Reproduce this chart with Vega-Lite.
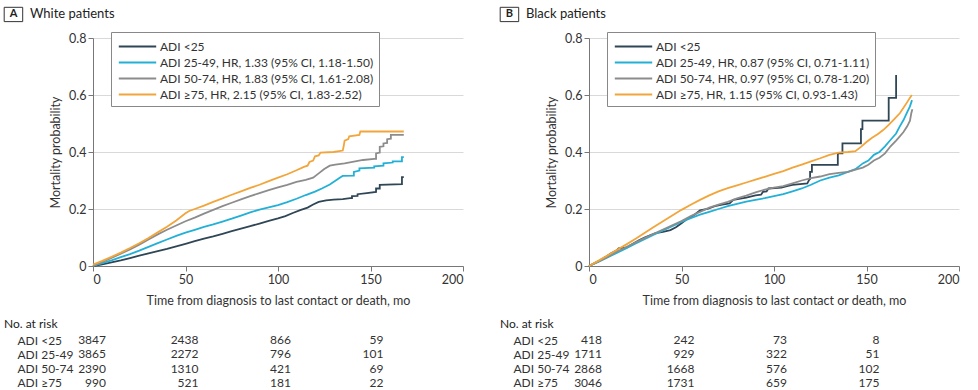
{
  "$schema": "https://vega.github.io/schema/vega-lite/v6.json",
  "padding": {"left": 3, "top": 6, "right": 5, "bottom": 0},
  "background": "white",
  "config": {
    "font": "Lato",
    "view": {"stroke": null},
    "axis": {"labelFont": "Lato", "titleFont": "Lato", "labelColor": "#333", "titleColor": "#333", "labelFontSize": 12.5, "titleFontSize": 12.5, "titleFontWeight": "normal", "domainColor": "#777", "tickColor": "#777", "tickSize": 5, "labelPadding": 2},
    "legend": {"labelFont": "Lato", "labelColor": "#333"},
    "title": {"font": "Lato", "fontWeight": "normal", "color": "#222"}
  },
  "datasets": {
    "white": [
      {"ADI": "ADI <25", "t": 0, "p": 0}, {"ADI": "ADI <25", "t": 5, "p": 0.006}, {"ADI": "ADI <25", "t": 10, "p": 0.013}, {"ADI": "ADI <25", "t": 15, "p": 0.02}, {"ADI": "ADI <25", "t": 20, "p": 0.028}, {"ADI": "ADI <25", "t": 25, "p": 0.036}, {"ADI": "ADI <25", "t": 30, "p": 0.044}, {"ADI": "ADI <25", "t": 35, "p": 0.052}, {"ADI": "ADI <25", "t": 40, "p": 0.06}, {"ADI": "ADI <25", "t": 45, "p": 0.069}, {"ADI": "ADI <25", "t": 50, "p": 0.078}, {"ADI": "ADI <25", "t": 55, "p": 0.087}, {"ADI": "ADI <25", "t": 60, "p": 0.096}, {"ADI": "ADI <25", "t": 65, "p": 0.104}, {"ADI": "ADI <25", "t": 70, "p": 0.113}, {"ADI": "ADI <25", "t": 75, "p": 0.122}, {"ADI": "ADI <25", "t": 80, "p": 0.131}, {"ADI": "ADI <25", "t": 85, "p": 0.14}, {"ADI": "ADI <25", "t": 90, "p": 0.149}, {"ADI": "ADI <25", "t": 95, "p": 0.158}, {"ADI": "ADI <25", "t": 100, "p": 0.167}, {"ADI": "ADI <25", "t": 104, "p": 0.175}, {"ADI": "ADI <25", "t": 108, "p": 0.186}, {"ADI": "ADI <25", "t": 112, "p": 0.196}, {"ADI": "ADI <25", "t": 116, "p": 0.205}, {"ADI": "ADI <25", "t": 119, "p": 0.216}, {"ADI": "ADI <25", "t": 122, "p": 0.225}, {"ADI": "ADI <25", "t": 126, "p": 0.23}, {"ADI": "ADI <25", "t": 130, "p": 0.233}, {"ADI": "ADI <25", "t": 135, "p": 0.235}, {"ADI": "ADI <25", "t": 139, "p": 0.238}, {"ADI": "ADI <25", "t": 140, "p": 0.238}, {"ADI": "ADI <25", "t": 140, "p": 0.245}, {"ADI": "ADI <25", "t": 143, "p": 0.246}, {"ADI": "ADI <25", "t": 143, "p": 0.252}, {"ADI": "ADI <25", "t": 148, "p": 0.256}, {"ADI": "ADI <25", "t": 153, "p": 0.26}, {"ADI": "ADI <25", "t": 153, "p": 0.272}, {"ADI": "ADI <25", "t": 155, "p": 0.272}, {"ADI": "ADI <25", "t": 155, "p": 0.285}, {"ADI": "ADI <25", "t": 167, "p": 0.287}, {"ADI": "ADI <25", "t": 167, "p": 0.312}, {"ADI": "ADI <25", "t": 168, "p": 0.312},
      {"ADI": "ADI 25-49", "t": 0, "p": 0}, {"ADI": "ADI 25-49", "t": 5, "p": 0.01}, {"ADI": "ADI 25-49", "t": 10, "p": 0.02}, {"ADI": "ADI 25-49", "t": 15, "p": 0.031}, {"ADI": "ADI 25-49", "t": 20, "p": 0.042}, {"ADI": "ADI 25-49", "t": 25, "p": 0.054}, {"ADI": "ADI 25-49", "t": 30, "p": 0.067}, {"ADI": "ADI 25-49", "t": 35, "p": 0.08}, {"ADI": "ADI 25-49", "t": 40, "p": 0.093}, {"ADI": "ADI 25-49", "t": 45, "p": 0.106}, {"ADI": "ADI 25-49", "t": 50, "p": 0.117}, {"ADI": "ADI 25-49", "t": 55, "p": 0.127}, {"ADI": "ADI 25-49", "t": 60, "p": 0.137}, {"ADI": "ADI 25-49", "t": 65, "p": 0.146}, {"ADI": "ADI 25-49", "t": 70, "p": 0.156}, {"ADI": "ADI 25-49", "t": 75, "p": 0.166}, {"ADI": "ADI 25-49", "t": 80, "p": 0.177}, {"ADI": "ADI 25-49", "t": 85, "p": 0.188}, {"ADI": "ADI 25-49", "t": 90, "p": 0.198}, {"ADI": "ADI 25-49", "t": 95, "p": 0.206}, {"ADI": "ADI 25-49", "t": 100, "p": 0.214}, {"ADI": "ADI 25-49", "t": 105, "p": 0.224}, {"ADI": "ADI 25-49", "t": 110, "p": 0.236}, {"ADI": "ADI 25-49", "t": 115, "p": 0.249}, {"ADI": "ADI 25-49", "t": 120, "p": 0.261}, {"ADI": "ADI 25-49", "t": 124, "p": 0.273}, {"ADI": "ADI 25-49", "t": 128, "p": 0.286}, {"ADI": "ADI 25-49", "t": 131, "p": 0.299}, {"ADI": "ADI 25-49", "t": 134, "p": 0.312}, {"ADI": "ADI 25-49", "t": 135, "p": 0.316}, {"ADI": "ADI 25-49", "t": 141, "p": 0.317}, {"ADI": "ADI 25-49", "t": 141, "p": 0.33}, {"ADI": "ADI 25-49", "t": 144, "p": 0.335}, {"ADI": "ADI 25-49", "t": 144, "p": 0.343}, {"ADI": "ADI 25-49", "t": 152, "p": 0.345}, {"ADI": "ADI 25-49", "t": 152, "p": 0.35}, {"ADI": "ADI 25-49", "t": 157, "p": 0.352}, {"ADI": "ADI 25-49", "t": 157, "p": 0.36}, {"ADI": "ADI 25-49", "t": 162, "p": 0.363}, {"ADI": "ADI 25-49", "t": 162, "p": 0.367}, {"ADI": "ADI 25-49", "t": 167, "p": 0.367}, {"ADI": "ADI 25-49", "t": 167, "p": 0.382}, {"ADI": "ADI 25-49", "t": 168, "p": 0.382},
      {"ADI": "ADI 50-74", "t": 0, "p": 0}, {"ADI": "ADI 50-74", "t": 5, "p": 0.014}, {"ADI": "ADI 50-74", "t": 10, "p": 0.028}, {"ADI": "ADI 50-74", "t": 15, "p": 0.043}, {"ADI": "ADI 50-74", "t": 20, "p": 0.058}, {"ADI": "ADI 50-74", "t": 25, "p": 0.075}, {"ADI": "ADI 50-74", "t": 30, "p": 0.093}, {"ADI": "ADI 50-74", "t": 35, "p": 0.111}, {"ADI": "ADI 50-74", "t": 40, "p": 0.127}, {"ADI": "ADI 50-74", "t": 45, "p": 0.142}, {"ADI": "ADI 50-74", "t": 50, "p": 0.157}, {"ADI": "ADI 50-74", "t": 55, "p": 0.17}, {"ADI": "ADI 50-74", "t": 60, "p": 0.184}, {"ADI": "ADI 50-74", "t": 65, "p": 0.197}, {"ADI": "ADI 50-74", "t": 70, "p": 0.21}, {"ADI": "ADI 50-74", "t": 75, "p": 0.222}, {"ADI": "ADI 50-74", "t": 80, "p": 0.234}, {"ADI": "ADI 50-74", "t": 85, "p": 0.245}, {"ADI": "ADI 50-74", "t": 90, "p": 0.256}, {"ADI": "ADI 50-74", "t": 95, "p": 0.266}, {"ADI": "ADI 50-74", "t": 100, "p": 0.276}, {"ADI": "ADI 50-74", "t": 105, "p": 0.285}, {"ADI": "ADI 50-74", "t": 110, "p": 0.295}, {"ADI": "ADI 50-74", "t": 115, "p": 0.302}, {"ADI": "ADI 50-74", "t": 119, "p": 0.31}, {"ADI": "ADI 50-74", "t": 122, "p": 0.325}, {"ADI": "ADI 50-74", "t": 125, "p": 0.34}, {"ADI": "ADI 50-74", "t": 128, "p": 0.352}, {"ADI": "ADI 50-74", "t": 131, "p": 0.356}, {"ADI": "ADI 50-74", "t": 136, "p": 0.36}, {"ADI": "ADI 50-74", "t": 141, "p": 0.366}, {"ADI": "ADI 50-74", "t": 146, "p": 0.372}, {"ADI": "ADI 50-74", "t": 152, "p": 0.376}, {"ADI": "ADI 50-74", "t": 153, "p": 0.376}, {"ADI": "ADI 50-74", "t": 153, "p": 0.395}, {"ADI": "ADI 50-74", "t": 155, "p": 0.398}, {"ADI": "ADI 50-74", "t": 155, "p": 0.418}, {"ADI": "ADI 50-74", "t": 157, "p": 0.42}, {"ADI": "ADI 50-74", "t": 157, "p": 0.43}, {"ADI": "ADI 50-74", "t": 159, "p": 0.432}, {"ADI": "ADI 50-74", "t": 159, "p": 0.445}, {"ADI": "ADI 50-74", "t": 161, "p": 0.447}, {"ADI": "ADI 50-74", "t": 161, "p": 0.46}, {"ADI": "ADI 50-74", "t": 168, "p": 0.46},
      {"ADI": "ADI ≥75", "t": 0, "p": 0.005}, {"ADI": "ADI ≥75", "t": 5, "p": 0.018}, {"ADI": "ADI ≥75", "t": 10, "p": 0.032}, {"ADI": "ADI ≥75", "t": 15, "p": 0.047}, {"ADI": "ADI ≥75", "t": 20, "p": 0.063}, {"ADI": "ADI ≥75", "t": 25, "p": 0.08}, {"ADI": "ADI ≥75", "t": 30, "p": 0.098}, {"ADI": "ADI ≥75", "t": 35, "p": 0.118}, {"ADI": "ADI ≥75", "t": 40, "p": 0.138}, {"ADI": "ADI ≥75", "t": 45, "p": 0.16}, {"ADI": "ADI ≥75", "t": 50, "p": 0.185}, {"ADI": "ADI ≥75", "t": 52, "p": 0.193}, {"ADI": "ADI ≥75", "t": 55, "p": 0.2}, {"ADI": "ADI ≥75", "t": 60, "p": 0.212}, {"ADI": "ADI ≥75", "t": 65, "p": 0.225}, {"ADI": "ADI ≥75", "t": 70, "p": 0.237}, {"ADI": "ADI ≥75", "t": 75, "p": 0.25}, {"ADI": "ADI ≥75", "t": 80, "p": 0.262}, {"ADI": "ADI ≥75", "t": 85, "p": 0.274}, {"ADI": "ADI ≥75", "t": 90, "p": 0.285}, {"ADI": "ADI ≥75", "t": 95, "p": 0.298}, {"ADI": "ADI ≥75", "t": 100, "p": 0.31}, {"ADI": "ADI ≥75", "t": 105, "p": 0.322}, {"ADI": "ADI ≥75", "t": 110, "p": 0.336}, {"ADI": "ADI ≥75", "t": 114, "p": 0.348}, {"ADI": "ADI ≥75", "t": 116, "p": 0.352}, {"ADI": "ADI ≥75", "t": 117, "p": 0.365}, {"ADI": "ADI ≥75", "t": 119, "p": 0.37}, {"ADI": "ADI ≥75", "t": 120, "p": 0.385}, {"ADI": "ADI ≥75", "t": 122, "p": 0.388}, {"ADI": "ADI ≥75", "t": 123, "p": 0.398}, {"ADI": "ADI ≥75", "t": 130, "p": 0.4}, {"ADI": "ADI ≥75", "t": 135, "p": 0.405}, {"ADI": "ADI ≥75", "t": 135.5, "p": 0.42}, {"ADI": "ADI ≥75", "t": 136, "p": 0.44}, {"ADI": "ADI ≥75", "t": 138, "p": 0.445}, {"ADI": "ADI ≥75", "t": 138.5, "p": 0.455}, {"ADI": "ADI ≥75", "t": 144, "p": 0.46}, {"ADI": "ADI ≥75", "t": 144.5, "p": 0.472}, {"ADI": "ADI ≥75", "t": 168, "p": 0.472}
    ],
    "black": [
      {"ADI": "ADI <25", "t": 0, "p": 0}, {"ADI": "ADI <25", "t": 3, "p": 0.01}, {"ADI": "ADI <25", "t": 6, "p": 0.02}, {"ADI": "ADI <25", "t": 9, "p": 0.032}, {"ADI": "ADI <25", "t": 12, "p": 0.045}, {"ADI": "ADI <25", "t": 15, "p": 0.055}, {"ADI": "ADI <25", "t": 16, "p": 0.062}, {"ADI": "ADI <25", "t": 20, "p": 0.064}, {"ADI": "ADI <25", "t": 23, "p": 0.075}, {"ADI": "ADI <25", "t": 27, "p": 0.09}, {"ADI": "ADI <25", "t": 30, "p": 0.1}, {"ADI": "ADI <25", "t": 33, "p": 0.108}, {"ADI": "ADI <25", "t": 36, "p": 0.115}, {"ADI": "ADI <25", "t": 40, "p": 0.12}, {"ADI": "ADI <25", "t": 44, "p": 0.126}, {"ADI": "ADI <25", "t": 47, "p": 0.136}, {"ADI": "ADI <25", "t": 50, "p": 0.15}, {"ADI": "ADI <25", "t": 53, "p": 0.165}, {"ADI": "ADI <25", "t": 57, "p": 0.18}, {"ADI": "ADI <25", "t": 60, "p": 0.195}, {"ADI": "ADI <25", "t": 64, "p": 0.2}, {"ADI": "ADI <25", "t": 68, "p": 0.21}, {"ADI": "ADI <25", "t": 72, "p": 0.215}, {"ADI": "ADI <25", "t": 76, "p": 0.22}, {"ADI": "ADI <25", "t": 78, "p": 0.232}, {"ADI": "ADI <25", "t": 85, "p": 0.24}, {"ADI": "ADI <25", "t": 90, "p": 0.248}, {"ADI": "ADI <25", "t": 93, "p": 0.25}, {"ADI": "ADI <25", "t": 94, "p": 0.26}, {"ADI": "ADI <25", "t": 96, "p": 0.262}, {"ADI": "ADI <25", "t": 97, "p": 0.272}, {"ADI": "ADI <25", "t": 104, "p": 0.275}, {"ADI": "ADI <25", "t": 107, "p": 0.28}, {"ADI": "ADI <25", "t": 110, "p": 0.285}, {"ADI": "ADI <25", "t": 118, "p": 0.29}, {"ADI": "ADI <25", "t": 119, "p": 0.302}, {"ADI": "ADI <25", "t": 119.5, "p": 0.305}, {"ADI": "ADI <25", "t": 119.5, "p": 0.33}, {"ADI": "ADI <25", "t": 120.5, "p": 0.33}, {"ADI": "ADI <25", "t": 120.5, "p": 0.355}, {"ADI": "ADI <25", "t": 134.5, "p": 0.355}, {"ADI": "ADI <25", "t": 134.5, "p": 0.395}, {"ADI": "ADI <25", "t": 137, "p": 0.395}, {"ADI": "ADI <25", "t": 137, "p": 0.43}, {"ADI": "ADI <25", "t": 147, "p": 0.43}, {"ADI": "ADI <25", "t": 147, "p": 0.48}, {"ADI": "ADI <25", "t": 147.8, "p": 0.48}, {"ADI": "ADI <25", "t": 147.8, "p": 0.51}, {"ADI": "ADI <25", "t": 162, "p": 0.51}, {"ADI": "ADI <25", "t": 162, "p": 0.59}, {"ADI": "ADI <25", "t": 166, "p": 0.59}, {"ADI": "ADI <25", "t": 166, "p": 0.67},
      {"ADI": "ADI 25-49", "t": 0, "p": 0}, {"ADI": "ADI 25-49", "t": 5, "p": 0.014}, {"ADI": "ADI 25-49", "t": 10, "p": 0.03}, {"ADI": "ADI 25-49", "t": 15, "p": 0.046}, {"ADI": "ADI 25-49", "t": 20, "p": 0.062}, {"ADI": "ADI 25-49", "t": 25, "p": 0.078}, {"ADI": "ADI 25-49", "t": 30, "p": 0.094}, {"ADI": "ADI 25-49", "t": 35, "p": 0.11}, {"ADI": "ADI 25-49", "t": 40, "p": 0.125}, {"ADI": "ADI 25-49", "t": 45, "p": 0.14}, {"ADI": "ADI 25-49", "t": 50, "p": 0.155}, {"ADI": "ADI 25-49", "t": 55, "p": 0.168}, {"ADI": "ADI 25-49", "t": 60, "p": 0.18}, {"ADI": "ADI 25-49", "t": 65, "p": 0.19}, {"ADI": "ADI 25-49", "t": 70, "p": 0.2}, {"ADI": "ADI 25-49", "t": 75, "p": 0.21}, {"ADI": "ADI 25-49", "t": 80, "p": 0.218}, {"ADI": "ADI 25-49", "t": 85, "p": 0.226}, {"ADI": "ADI 25-49", "t": 90, "p": 0.232}, {"ADI": "ADI 25-49", "t": 95, "p": 0.238}, {"ADI": "ADI 25-49", "t": 100, "p": 0.245}, {"ADI": "ADI 25-49", "t": 105, "p": 0.252}, {"ADI": "ADI 25-49", "t": 110, "p": 0.262}, {"ADI": "ADI 25-49", "t": 115, "p": 0.272}, {"ADI": "ADI 25-49", "t": 120, "p": 0.285}, {"ADI": "ADI 25-49", "t": 125, "p": 0.3}, {"ADI": "ADI 25-49", "t": 130, "p": 0.31}, {"ADI": "ADI 25-49", "t": 135, "p": 0.318}, {"ADI": "ADI 25-49", "t": 140, "p": 0.33}, {"ADI": "ADI 25-49", "t": 144, "p": 0.34}, {"ADI": "ADI 25-49", "t": 148, "p": 0.36}, {"ADI": "ADI 25-49", "t": 151, "p": 0.37}, {"ADI": "ADI 25-49", "t": 154, "p": 0.39}, {"ADI": "ADI 25-49", "t": 157, "p": 0.4}, {"ADI": "ADI 25-49", "t": 160, "p": 0.42}, {"ADI": "ADI 25-49", "t": 162, "p": 0.435}, {"ADI": "ADI 25-49", "t": 164, "p": 0.45}, {"ADI": "ADI 25-49", "t": 166, "p": 0.465}, {"ADI": "ADI 25-49", "t": 168, "p": 0.49}, {"ADI": "ADI 25-49", "t": 170, "p": 0.512}, {"ADI": "ADI 25-49", "t": 172, "p": 0.54}, {"ADI": "ADI 25-49", "t": 173.5, "p": 0.56}, {"ADI": "ADI 25-49", "t": 174.6, "p": 0.582},
      {"ADI": "ADI 50-74", "t": 0, "p": 0}, {"ADI": "ADI 50-74", "t": 5, "p": 0.015}, {"ADI": "ADI 50-74", "t": 10, "p": 0.032}, {"ADI": "ADI 50-74", "t": 15, "p": 0.05}, {"ADI": "ADI 50-74", "t": 20, "p": 0.066}, {"ADI": "ADI 50-74", "t": 25, "p": 0.082}, {"ADI": "ADI 50-74", "t": 30, "p": 0.098}, {"ADI": "ADI 50-74", "t": 35, "p": 0.113}, {"ADI": "ADI 50-74", "t": 40, "p": 0.128}, {"ADI": "ADI 50-74", "t": 45, "p": 0.143}, {"ADI": "ADI 50-74", "t": 50, "p": 0.158}, {"ADI": "ADI 50-74", "t": 55, "p": 0.175}, {"ADI": "ADI 50-74", "t": 60, "p": 0.19}, {"ADI": "ADI 50-74", "t": 65, "p": 0.205}, {"ADI": "ADI 50-74", "t": 70, "p": 0.215}, {"ADI": "ADI 50-74", "t": 75, "p": 0.225}, {"ADI": "ADI 50-74", "t": 80, "p": 0.237}, {"ADI": "ADI 50-74", "t": 85, "p": 0.247}, {"ADI": "ADI 50-74", "t": 90, "p": 0.258}, {"ADI": "ADI 50-74", "t": 95, "p": 0.268}, {"ADI": "ADI 50-74", "t": 100, "p": 0.275}, {"ADI": "ADI 50-74", "t": 105, "p": 0.28}, {"ADI": "ADI 50-74", "t": 110, "p": 0.29}, {"ADI": "ADI 50-74", "t": 115, "p": 0.3}, {"ADI": "ADI 50-74", "t": 120, "p": 0.308}, {"ADI": "ADI 50-74", "t": 125, "p": 0.314}, {"ADI": "ADI 50-74", "t": 130, "p": 0.322}, {"ADI": "ADI 50-74", "t": 135, "p": 0.327}, {"ADI": "ADI 50-74", "t": 140, "p": 0.33}, {"ADI": "ADI 50-74", "t": 145, "p": 0.34}, {"ADI": "ADI 50-74", "t": 148, "p": 0.345}, {"ADI": "ADI 50-74", "t": 151, "p": 0.355}, {"ADI": "ADI 50-74", "t": 154, "p": 0.37}, {"ADI": "ADI 50-74", "t": 157, "p": 0.38}, {"ADI": "ADI 50-74", "t": 160, "p": 0.395}, {"ADI": "ADI 50-74", "t": 163, "p": 0.42}, {"ADI": "ADI 50-74", "t": 166, "p": 0.44}, {"ADI": "ADI 50-74", "t": 168, "p": 0.455}, {"ADI": "ADI 50-74", "t": 170, "p": 0.47}, {"ADI": "ADI 50-74", "t": 172, "p": 0.49}, {"ADI": "ADI 50-74", "t": 173.5, "p": 0.51}, {"ADI": "ADI 50-74", "t": 174.2, "p": 0.536}, {"ADI": "ADI 50-74", "t": 174.8, "p": 0.55},
      {"ADI": "ADI ≥75", "t": 0, "p": 0}, {"ADI": "ADI ≥75", "t": 5, "p": 0.018}, {"ADI": "ADI ≥75", "t": 10, "p": 0.037}, {"ADI": "ADI ≥75", "t": 15, "p": 0.056}, {"ADI": "ADI ≥75", "t": 20, "p": 0.075}, {"ADI": "ADI ≥75", "t": 25, "p": 0.095}, {"ADI": "ADI ≥75", "t": 30, "p": 0.116}, {"ADI": "ADI ≥75", "t": 35, "p": 0.137}, {"ADI": "ADI ≥75", "t": 40, "p": 0.157}, {"ADI": "ADI ≥75", "t": 45, "p": 0.177}, {"ADI": "ADI ≥75", "t": 50, "p": 0.197}, {"ADI": "ADI ≥75", "t": 55, "p": 0.215}, {"ADI": "ADI ≥75", "t": 60, "p": 0.232}, {"ADI": "ADI ≥75", "t": 65, "p": 0.248}, {"ADI": "ADI ≥75", "t": 70, "p": 0.262}, {"ADI": "ADI ≥75", "t": 75, "p": 0.273}, {"ADI": "ADI ≥75", "t": 80, "p": 0.283}, {"ADI": "ADI ≥75", "t": 85, "p": 0.293}, {"ADI": "ADI ≥75", "t": 90, "p": 0.303}, {"ADI": "ADI ≥75", "t": 95, "p": 0.313}, {"ADI": "ADI ≥75", "t": 100, "p": 0.323}, {"ADI": "ADI ≥75", "t": 105, "p": 0.333}, {"ADI": "ADI ≥75", "t": 110, "p": 0.345}, {"ADI": "ADI ≥75", "t": 115, "p": 0.356}, {"ADI": "ADI ≥75", "t": 120, "p": 0.367}, {"ADI": "ADI ≥75", "t": 125, "p": 0.378}, {"ADI": "ADI ≥75", "t": 130, "p": 0.39}, {"ADI": "ADI ≥75", "t": 135, "p": 0.398}, {"ADI": "ADI ≥75", "t": 140, "p": 0.4}, {"ADI": "ADI ≥75", "t": 144, "p": 0.403}, {"ADI": "ADI ≥75", "t": 147, "p": 0.418}, {"ADI": "ADI ≥75", "t": 150, "p": 0.435}, {"ADI": "ADI ≥75", "t": 153, "p": 0.45}, {"ADI": "ADI ≥75", "t": 156, "p": 0.462}, {"ADI": "ADI ≥75", "t": 159, "p": 0.477}, {"ADI": "ADI ≥75", "t": 162, "p": 0.495}, {"ADI": "ADI ≥75", "t": 165, "p": 0.515}, {"ADI": "ADI ≥75", "t": 168, "p": 0.536}, {"ADI": "ADI ≥75", "t": 170, "p": 0.555}, {"ADI": "ADI ≥75", "t": 172, "p": 0.575}, {"ADI": "ADI ≥75", "t": 173.5, "p": 0.59}, {"ADI": "ADI ≥75", "t": 174.5, "p": 0.6}
    ],
    "riskWhite": [
      {"ADI": "ADI <25", "t": 0, "n": 3847}, {"ADI": "ADI <25", "t": 50, "n": 2438}, {"ADI": "ADI <25", "t": 100, "n": 866}, {"ADI": "ADI <25", "t": 150, "n": 59},
      {"ADI": "ADI 25-49", "t": 0, "n": 3865}, {"ADI": "ADI 25-49", "t": 50, "n": 2272}, {"ADI": "ADI 25-49", "t": 100, "n": 796}, {"ADI": "ADI 25-49", "t": 150, "n": 101},
      {"ADI": "ADI 50-74", "t": 0, "n": 2390}, {"ADI": "ADI 50-74", "t": 50, "n": 1310}, {"ADI": "ADI 50-74", "t": 100, "n": 421}, {"ADI": "ADI 50-74", "t": 150, "n": 69},
      {"ADI": "ADI ≥75", "t": 0, "n": 990}, {"ADI": "ADI ≥75", "t": 50, "n": 521}, {"ADI": "ADI ≥75", "t": 100, "n": 181}, {"ADI": "ADI ≥75", "t": 150, "n": 22}
    ],
    "riskBlack": [
      {"ADI": "ADI <25", "t": 0, "n": 418}, {"ADI": "ADI <25", "t": 50, "n": 242}, {"ADI": "ADI <25", "t": 100, "n": 73}, {"ADI": "ADI <25", "t": 150, "n": 8},
      {"ADI": "ADI 25-49", "t": 0, "n": 1711}, {"ADI": "ADI 25-49", "t": 50, "n": 929}, {"ADI": "ADI 25-49", "t": 100, "n": 322}, {"ADI": "ADI 25-49", "t": 150, "n": 51},
      {"ADI": "ADI 50-74", "t": 0, "n": 2868}, {"ADI": "ADI 50-74", "t": 50, "n": 1668}, {"ADI": "ADI 50-74", "t": 100, "n": 576}, {"ADI": "ADI 50-74", "t": 150, "n": 102},
      {"ADI": "ADI ≥75", "t": 0, "n": 3046}, {"ADI": "ADI ≥75", "t": 50, "n": 1731}, {"ADI": "ADI ≥75", "t": 100, "n": 659}, {"ADI": "ADI ≥75", "t": 150, "n": 175}
    ],
    "headA": [{"letter": "A", "group": "White patients"}],
    "headB": [{"letter": "B", "group": "Black patients"}]
  },
  "spacing": 35,
  "hconcat": [
    {
      "spacing": 67,
      "bounds": "flush",
      "vconcat": [
        {
          "width": 370,
          "height": 228,
          "layer": [
            {
              "data": {"name": "white"},
              "mark": {"type": "line", "interpolate": "linear", "strokeWidth": 1.8},
              "encoding": {
                "x": {"field": "t", "type": "quantitative", "scale": {"domain": [0, 200], "nice": false}, "axis": {"values": [0, 50, 100, 150, 200], "title": "Time from diagnosis to last contact or death, mo", "titlePadding": 9, "grid": false}},
                "y": {"field": "p", "type": "quantitative", "scale": {"domain": [0, 0.8], "nice": false}, "axis": {"values": [0, 0.2, 0.4, 0.6, 0.8], "format": "~g", "title": "Mortality probability", "titlePadding": 6, "grid": true, "gridColor": "#d9d9d9"}},
                "color": {"field": "ADI", "type": "nominal", "scale": {"domain": ["ADI <25", "ADI 25-49", "ADI 50-74", "ADI ≥75"], "range": ["#2f4656", "#22b0d6", "#8c8c8c", "#f2a53a"]},
                  "legend": {"title": null, "orient": "none", "legendX": 18, "legendY": -6, "strokeColor": "#888", "fillColor": "white", "padding": 5, "symbolType": "M-2.2,0H2.2", "symbolStrokeWidth": 2, "symbolSize": 289, "symbolOffset": 12, "labelFontSize": 12, "rowPadding": 0, "labelLimit": 400, "labelOffset": 13,
                    "labelExpr": "datum.label == 'ADI 25-49' ? 'ADI 25-49, HR, 1.33 (95% CI, 1.18-1.50)' : datum.label == 'ADI 50-74' ? 'ADI 50-74, HR, 1.83 (95% CI, 1.61-2.08)' : datum.label == 'ADI ≥75' ? 'ADI ≥75, HR, 2.15 (95% CI, 1.83-2.52)' : datum.label"}}
              }
            },
            {
              "data": {"name": "headA"},
              "mark": {"type": "rect", "fill": "white", "stroke": "#333", "strokeWidth": 1},
              "encoding": {"x": {"datum": -48}, "x2": {"datum": -38}, "y": {"datum": 0.9077}, "y2": {"datum": 0.8575}}
            },
            {
              "data": {"name": "headA"},
              "mark": {"type": "text", "fontWeight": "bold", "fontSize": 11, "color": "#222", "align": "center", "baseline": "middle"},
              "encoding": {"x": {"datum": -43}, "y": {"datum": 0.8826}, "text": {"field": "letter"}}
            },
            {
              "data": {"name": "headA"},
              "mark": {"type": "text", "fontSize": 13, "color": "#222", "align": "left", "baseline": "middle", "dx": 16.5, "dy": -0.5},
              "encoding": {"x": {"datum": -43}, "y": {"datum": 0.8826}, "text": {"field": "group"}}
            }
          ]
        },
        {
          "width": 370,
          "height": 57,
          "data": {"name": "riskWhite"},
          "title": {"text": "No. at risk", "anchor": "start", "frame": "group", "dx": -89, "offset": 2, "fontSize": 12},
          "mark": {"type": "text", "align": "right", "dx": 13, "fontSize": 12, "color": "#333"},
          "encoding": {
            "x": {"field": "t", "type": "quantitative", "scale": {"domain": [0, 200], "nice": false}, "axis": null},
            "y": {"field": "ADI", "type": "nominal", "sort": ["ADI <25", "ADI 25-49", "ADI 50-74", "ADI ≥75"], "axis": {"title": null, "domain": false, "ticks": false, "labelAlign": "left", "labelPadding": 76, "labelFontSize": 12}},
            "text": {"field": "n", "type": "quantitative"}
          }
        }
      ]
    },
    {
      "spacing": 67,
      "bounds": "flush",
      "vconcat": [
        {
          "width": 370,
          "height": 228,
          "layer": [
            {
              "data": {"name": "black"},
              "mark": {"type": "line", "interpolate": "linear", "strokeWidth": 1.8},
              "encoding": {
                "x": {"field": "t", "type": "quantitative", "scale": {"domain": [0, 200], "nice": false}, "axis": {"values": [0, 50, 100, 150, 200], "title": "Time from diagnosis to last contact or death, mo", "titlePadding": 9, "grid": false}},
                "y": {"field": "p", "type": "quantitative", "scale": {"domain": [0, 0.8], "nice": false}, "axis": {"values": [0, 0.2, 0.4, 0.6, 0.8], "format": "~g", "title": "Mortality probability", "titlePadding": 6, "grid": true, "gridColor": "#d9d9d9"}},
                "color": {"field": "ADI", "type": "nominal", "scale": {"domain": ["ADI <25", "ADI 25-49", "ADI 50-74", "ADI ≥75"], "range": ["#2f4656", "#22b0d6", "#8c8c8c", "#f2a53a"]},
                  "legend": {"title": null, "orient": "none", "legendX": 18, "legendY": -6, "strokeColor": "#888", "fillColor": "white", "padding": 5, "symbolType": "M-2.2,0H2.2", "symbolStrokeWidth": 2, "symbolSize": 289, "symbolOffset": 12, "labelFontSize": 12, "rowPadding": 0, "labelLimit": 400, "labelOffset": 13,
                    "labelExpr": "datum.label == 'ADI 25-49' ? 'ADI 25-49, HR, 0.87 (95% CI, 0.71-1.11)' : datum.label == 'ADI 50-74' ? 'ADI 50-74, HR, 0.97 (95% CI, 0.78-1.20)' : datum.label == 'ADI ≥75' ? 'ADI ≥75, HR, 1.15 (95% CI, 0.93-1.43)' : datum.label"}}
              }
            },
            {
              "data": {"name": "headB"},
              "mark": {"type": "rect", "fill": "white", "stroke": "#333", "strokeWidth": 1},
              "encoding": {"x": {"datum": -48}, "x2": {"datum": -38}, "y": {"datum": 0.9077}, "y2": {"datum": 0.8575}}
            },
            {
              "data": {"name": "headB"},
              "mark": {"type": "text", "fontWeight": "bold", "fontSize": 11, "color": "#222", "align": "center", "baseline": "middle"},
              "encoding": {"x": {"datum": -43}, "y": {"datum": 0.8826}, "text": {"field": "letter"}}
            },
            {
              "data": {"name": "headB"},
              "mark": {"type": "text", "fontSize": 13, "color": "#222", "align": "left", "baseline": "middle", "dx": 16.5, "dy": -0.5},
              "encoding": {"x": {"datum": -43}, "y": {"datum": 0.8826}, "text": {"field": "group"}}
            }
          ]
        },
        {
          "width": 370,
          "height": 57,
          "data": {"name": "riskBlack"},
          "title": {"text": "No. at risk", "anchor": "start", "frame": "group", "dx": -89, "offset": 2, "fontSize": 12},
          "mark": {"type": "text", "align": "right", "dx": 13, "fontSize": 12, "color": "#333"},
          "encoding": {
            "x": {"field": "t", "type": "quantitative", "scale": {"domain": [0, 200], "nice": false}, "axis": null},
            "y": {"field": "ADI", "type": "nominal", "sort": ["ADI <25", "ADI 25-49", "ADI 50-74", "ADI ≥75"], "axis": {"title": null, "domain": false, "ticks": false, "labelAlign": "left", "labelPadding": 76, "labelFontSize": 12}},
            "text": {"field": "n", "type": "quantitative"}
          }
        }
      ]
    }
  ],
  "resolve": {"scale": {"color": "independent"}}
}
